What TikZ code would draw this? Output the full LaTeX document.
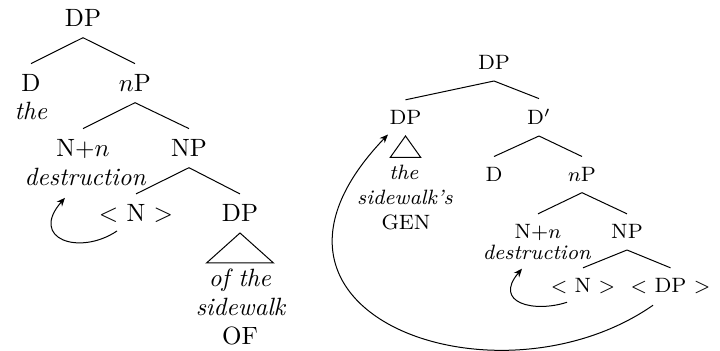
\documentclass[tikz,border=0pt]{standalone}
\usetikzlibrary{arrows.meta}
\usepackage{amsmath,amssymb}

\tikzset{
  cat/.style={anchor=base, inner xsep=2pt, inner ysep=4.2pt},
  word/.style={anchor=base, inner sep=1pt},
  move/.style={-{Stealth[length=3.4pt,width=2.8pt]}},
  rtree/.style={font=\fontsize{8.3}{10}\selectfont}
}

\begin{document}
\begin{tikzpicture}[x=0.4pt, y=-0.4pt]
        \useasboundingbox (0,0) rectangle (720,351);

        \node[cat] (l0) at (83,26.7) {DP};
        \node[cat] (ld) at (31,91.7) {D};
        \node[word] (lthe) at (31,120) {\textit{the}};
        \node[cat] (lnp) at (135,91.7) {$n$P};
        \node[cat] (lnn) at (83,156.7) {N+$n$};
        \node[word] (ldes) at (85.5,186) {\textit{destruction}};
        \node[cat] (lNP) at (189,156.7) {NP};
        \node[cat] (ln) at (136,222) {$<$ N $>$};
        \node[cat] (ldp) at (240,222) {DP};
        \node[word] (lof) at (240,287) {\textit{of the}};
        \node[word] (lside) at (241,316) {\textit{sidewalk}};
        \node[word] (lOF) at (240,345) {OF};
        \path
            (l0.south) edge (ld.north)
            (l0.south) edge (lnp.north)
            (lnp.south) edge (lnn.north)
            (lnp.south) edge (lNP.north)
            (lNP.south) edge (ln.north)
            (lNP.south) edge (ldp.north);
        \draw (ldp.south) -- +(-33.5,30) -- +(33.5,30) -- cycle;
        \draw[move] ([shift={(-19,-3)}]ln.south) .. controls +(-37.4,25.2) and +(-36.3,41.3) .. ([shift={(-20.5,8.5)}]ldes.south);

        \begin{scope}[rtree]
        \node[cat] (r0) at (494,70) {DP};
        \node[cat] (rdp) at (405.5,125) {DP};
        \node[cat] (rdbar) at (539,125) {D$'$};
        \node[word] (rthe) at (404,180) {\textit{the}};
        \node[word] (rside) at (405,205) {\textit{sidewalk's}};
        \node[word] (rGEN) at (406,230) {GEN};
        \node[cat] (rd) at (494,181.7) {D};
        \node[cat] (rnp) at (582,181.7) {$n$P};
        \node[cat] (rnn) at (538,239) {N+$n$};
        \node[word] (rdes) at (537,260) {\textit{destruction}};
        \node[cat] (rNP) at (627,239) {NP};
        \node[cat] (rn) at (583,293) {$<$ N $>$};
        \node[cat] (rtr) at (670.5,293) {$<$ DP $>$};
        \end{scope}
        \path
            (r0.south) edge (rdp.north)
            (r0.south) edge (rdbar.north)
            (rdbar.south) edge (rd.north)
            (rdbar.south) edge (rnp.north)
            (rnp.south) edge (rnn.north)
            (rnp.south) edge (rNP.north)
            (rNP.south) edge (rn.north)
            (rNP.south) edge (rtr.north);
        \draw (rdp.south) -- +(-15.3,21.5) -- +(15.3,21.5) -- cycle;
        \draw[move] ([shift={(-16,-3)}]rn.south) .. controls +(-33.2,10.8) and +(-29.2,34.2) .. ([shift={(-15,5.5)}]rdes.south);
        \draw[move] ([shift={(-17.5,0)}]rtr.south) .. controls +(-155.8,108.3) and +(-172.5,180) .. ([shift={(-17.5,-1.5)}]rdp.south);
\end{tikzpicture}
\end{document}
